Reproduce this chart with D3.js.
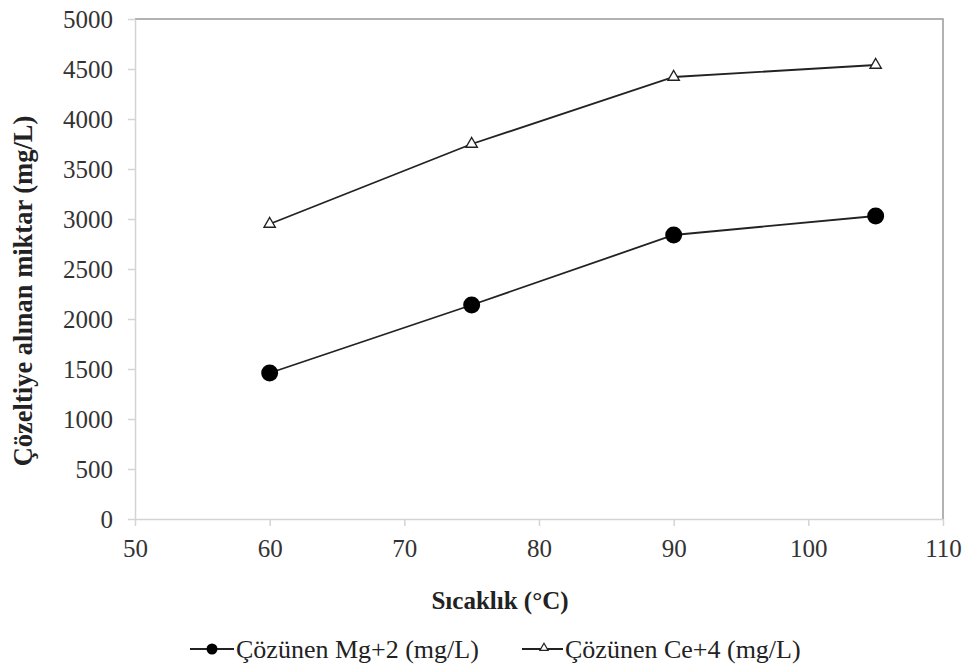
<!DOCTYPE html>
<html>
<head>
<meta charset="utf-8">
<script src="https://cdn.jsdelivr.net/npm/d3@7"></script>
<style>
  body { margin: 0; background: #fff; }
  svg { display: block; }
</style>
</head>
<body>
<svg id="chart" width="966" height="666"></svg>
<script>
// Temperature (°C) and dissolved amounts (mg/L)
const temperatures = [60, 75, 90, 105];
const mgValues = [1460, 2140, 2840, 3030];
const ceValues = [2950, 3750, 4420, 4540];
const xTicks = [50, 60, 70, 80, 90, 100, 110];
const yTicks = [0, 500, 1000, 1500, 2000, 2500, 3000, 3500, 4000, 4500, 5000];
const seriesNames = ["Çözünen Mg+2 (mg/L)", "Çözünen Ce+4 (mg/L)"];

const FONT = "'Liberation Serif', 'Times New Roman', serif";
const svg = d3.select("#chart");
const margin = { left: 135, right: 23, top: 19, bottom: 147 };
const W = 966, H = 666;
const x = d3.scaleLinear().domain([50, 110]).range([margin.left, W - margin.right]);
const y = d3.scaleLinear().domain([0, 5000]).range([H - margin.bottom, margin.top]);

// Frame: top and right border
svg.append("path")
  .attr("d", `M${x(50)},${y(5000)}H${x(110)}V${y(0)}`)
  .attr("fill", "none").attr("stroke", "#999").attr("stroke-width", 1.5);

// Axes
const xAxis = svg.append("g").attr("transform", `translate(0,${y(0)})`)
  .call(d3.axisBottom(x).tickValues(xTicks).tickFormat(d3.format("d"))
    .tickSize(7).tickPadding(13).tickSizeOuter(0));
const yAxis = svg.append("g").attr("transform", `translate(${x(50)},0)`)
  .call(d3.axisLeft(y).tickValues(yTicks).tickFormat(d3.format("d"))
    .tickSize(7).tickPadding(15).tickSizeOuter(0));
[xAxis, yAxis].forEach(g => {
  g.select(".domain").attr("stroke", "#d4d4d4").attr("stroke-width", 1.5);
  g.selectAll(".tick line").attr("stroke", "#d4d4d4").attr("stroke-width", 1.5);
  g.selectAll(".tick text")
    .style("font-family", FONT).style("font-size", "25px").attr("fill", "#333");
});
xAxis.selectAll(".tick text").attr("dy", "0.72em");

// Axis titles
svg.append("text")
  .attr("x", 500).attr("y", 609)
  .attr("text-anchor", "middle")
  .style("font-family", FONT).style("font-size", "25px").style("font-weight", "bold")
  .attr("fill", "#222")
  .text("Sıcaklık (°C)");
svg.append("text")
  .attr("transform", `translate(32,291) rotate(-90)`)
  .attr("text-anchor", "middle")
  .style("font-family", FONT).style("font-size", "26.5px").style("font-weight", "bold")
  .attr("fill", "#222")
  .text("Çözeltiye alınan miktar (mg/L)");

// Lines
const line = d3.line().x(d => x(d[0])).y(d => y(d[1]));
const mgData = temperatures.map((t, i) => [t, mgValues[i]]);
const ceData = temperatures.map((t, i) => [t, ceValues[i]]);
[mgData, ceData].forEach(data => {
  svg.append("path").datum(data).attr("d", line)
    .attr("fill", "none").attr("stroke", "#222").attr("stroke-width", 1.8);
});

const triangle = d3.symbol().type(d3.symbolTriangle).size(55);
const smallTriangle = d3.symbol().type(d3.symbolTriangle).size(30);

// Markers
svg.append("g").selectAll("circle").data(mgData).join("circle")
  .attr("cx", d => x(d[0])).attr("cy", d => y(d[1])).attr("r", 8.5)
  .attr("fill", "#000");
svg.append("g").selectAll("path").data(ceData).join("path")
  .attr("d", triangle)
  .attr("transform", d => `translate(${x(d[0])},${y(d[1])})`)
  .attr("fill", "#fff").attr("stroke", "#222").attr("stroke-width", 1.4);

// Legend
const legendY = 649;
const lg1 = svg.append("g").attr("transform", `translate(190,${legendY})`);
lg1.append("line").attr("x1", 0).attr("x2", 44).attr("stroke", "#222").attr("stroke-width", 1.8);
lg1.append("circle").attr("cx", 22).attr("r", 5.5).attr("fill", "#000");
lg1.append("text").attr("x", 46).attr("dy", "0.33em")
  .style("font-family", FONT).style("font-size", "26px").attr("fill", "#222")
  .text(seriesNames[0]);

const lg2 = svg.append("g").attr("transform", `translate(522,${legendY})`);
lg2.append("line").attr("x1", 0).attr("x2", 41).attr("stroke", "#222").attr("stroke-width", 1.8);
lg2.append("path").attr("d", smallTriangle).attr("transform", "translate(22,-1)")
  .attr("fill", "#fff").attr("stroke", "#222").attr("stroke-width", 1.2);
lg2.append("text").attr("x", 43).attr("dy", "0.33em")
  .style("font-family", FONT).style("font-size", "26px").attr("fill", "#222")
  .text(seriesNames[1]);
</script>
</body>
</html>
